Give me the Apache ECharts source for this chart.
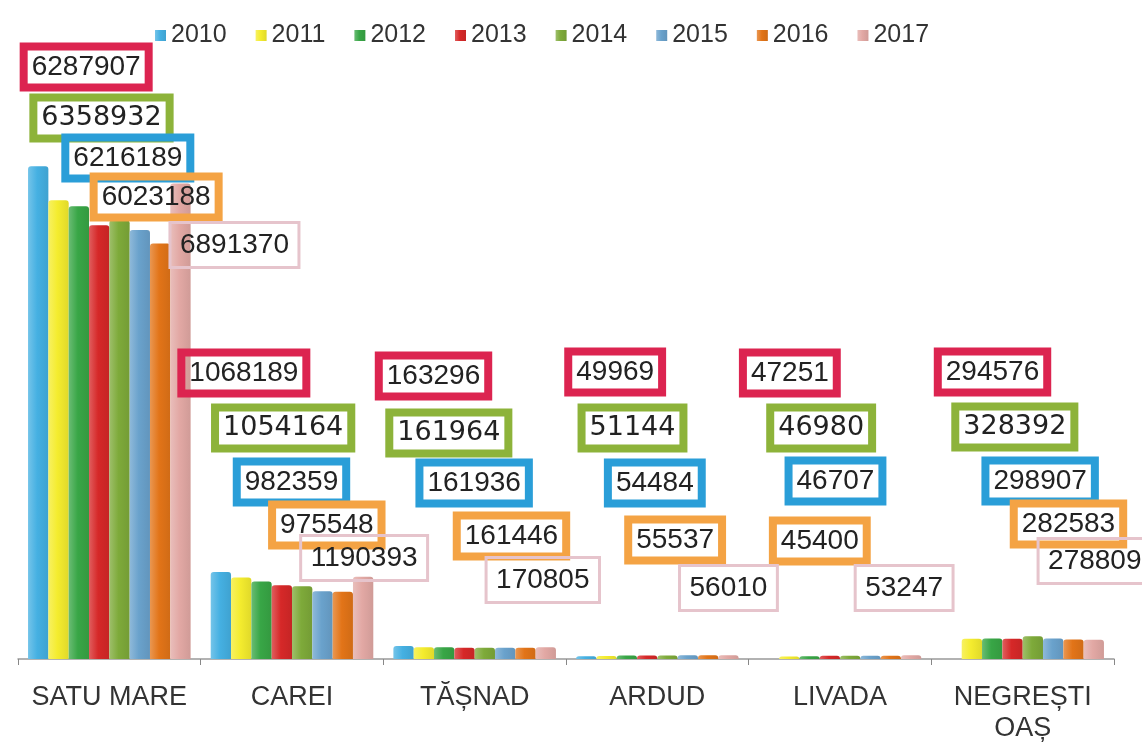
<!DOCTYPE html>
<html>
<head>
<meta charset="utf-8">
<title>Satu Mare</title>
<script src="https://cdn.jsdelivr.net/npm/echarts@6.0.0/dist/echarts.min.js"></script>
<style>
  html, body { margin: 0; padding: 0; background: #fff; }
  #chart { width: 1142px; height: 747px; }
</style>
</head>
<body>
<div id="chart"></div>
<script>
// categorii si ani
const categories = ["SATU MARE", "CAREI", "TĂȘNAD", "ARDUD", "LIVADA", "NEGREȘTI\nOAȘ"];
const years = ["2010", "2011", "2012", "2013", "2014", "2015", "2016", "2017"];

// valori (2010-2012 estimate dupa inaltimea barelor)
const v2010 = [7140000, 1262000, 190000, 40000, null, null];
const v2011 = [6650000, 1180000, 172000, 42000, 38000, 292000];
const v2012 = [6560000, 1124000, 170000, 52000, 40000, 296000];
const v2013 = [6287907, 1068189, 163296, 49969, 47251, 294576];
const v2014 = [6358932, 1054164, 161964, 51144, 46980, 328392];
const v2015 = [6216189, 982359, 161936, 54484, 46707, 298907];
const v2016 = [6023188, 975548, 161446, 55537, 45400, 282583];
const v2017 = [6891370, 1190393, 170805, 56010, 53247, 278809];
const values = [v2010, v2011, v2012, v2013, v2014, v2015, v2016, v2017];

// culori
const barColors = ["#45b0e2", "#f4ec2e", "#38a646", "#d62828", "#7eaa3a", "#6aa2cc", "#e27418", "#e2a8a4"];

// etichetele (casetele) - deplasare fata de baza barei, in px
const labelOffsets = {
  "2013": [[-13, -592], [-38, -286], [-31, -283], [-32, -287], [-40, -286], [-20, -287]],
  "2014": [[-18, -541], [-19, -231], [-36, -226], [-35, -231], [-29, -231], [-18, -232]],
  "2015": [[-12, -501], [-31, -177], [-31, -176], [-33, -176], [-35, -178], [-13, -178]],
  "2016": [[-4, -462], [-16, -134], [-14, -123], [-33, -119], [-71, -118], [-5, -135]],
  "2017": [[54, -414], [1, -101], [-3, -79], [0, -71], [-7, -71], [1, -98]],
};
const labelBox = {
  "2013": { borderColor: "#dc2450", borderWidth: 4, fontFamily: "Liberation Sans", fontSize: 28, padding: [5, 8] },
  "2014": { borderColor: "#8db33a", borderWidth: 4, fontFamily: "DejaVu Sans", fontSize: 27, padding: [5, 8] },
  "2015": { borderColor: "#2a9ed8", borderWidth: 4, fontFamily: "Liberation Sans", fontSize: 28, padding: [5, 8] },
  "2016": { borderColor: "#f4a344", borderWidth: 4, fontFamily: "Liberation Sans", fontSize: 28, padding: [5, 8] },
  "2017": { borderColor: "#e6c4cc", borderWidth: 1.5, fontFamily: "Liberation Sans", fontSize: 28, padding: [7, 10] },
};

function shade(hex, f) {
  const n = parseInt(hex.slice(1), 16);
  let r = (n >> 16) & 255, g = (n >> 8) & 255, b = n & 255;
  if (f > 0) {
    r += (255 - r) * f; g += (255 - g) * f; b += (255 - b) * f;
  } else {
    r *= 1 + f; g *= 1 + f; b *= 1 + f;
  }
  return "rgb(" + Math.round(r) + "," + Math.round(g) + "," + Math.round(b) + ")";
}

const series = years.map((y, i) => {
  const s = {
    name: y,
    type: "bar",
    barGap: "0%",
    barCategoryGap: "11%",
    itemStyle: {
      color: new echarts.graphic.LinearGradient(0, 0, 1, 0, [
        { offset: 0, color: shade(barColors[i], 0.25) },
        { offset: 0.45, color: barColors[i] },
        { offset: 1, color: shade(barColors[i], -0.08) },
      ]),
      borderRadius: [3, 3, 0, 0],
    },
    data: values[i],
  };
  if (labelOffsets[y]) {
    const box = labelBox[y];
    s.data = values[i].map((v, c) => ({
      value: v,
      label: {
        show: true,
        position: "insideBottom",
        distance: 0,
        align: "center",
        verticalAlign: "middle",
        offset: labelOffsets[y][c],
        fontSize: box.fontSize,
        lineHeight: 31,
        color: "#222",
        fontFamily: box.fontFamily,
        borderColor: box.borderColor,
        borderWidth: box.borderWidth,
        padding: box.padding,
        backgroundColor: "transparent",
      },
    }));
  }
  return s;
});

const chart = echarts.init(document.getElementById("chart"));
chart.setOption({
  animation: false,
  color: barColors,
  legend: {
    top: 18,
    left: 150,
    icon: "rect",
    itemWidth: 11,
    itemHeight: 11,
    itemGap: 29,
    textStyle: { fontSize: 25, color: "#333", fontFamily: "Liberation Sans" },
    data: years,
  },
  grid: { left: 18, right: 28, top: 107, bottom: 88 },
  xAxis: {
    type: "category",
    data: categories,
    axisLine: { lineStyle: { color: "#999", width: 1.5 } },
    axisTick: { show: true, length: 6, lineStyle: { color: "#888" } },
    axisLabel: {
      interval: 0,
      margin: 23,
      fontSize: 27,
      lineHeight: 31,
      color: "#333",
      fontFamily: "Liberation Sans",
    },
  },
  yAxis: {
    type: "value",
    min: 0,
    max: 8000000,
    show: false,
    splitLine: { show: false },
  },
  series: series,
});
</script>
</body>
</html>
